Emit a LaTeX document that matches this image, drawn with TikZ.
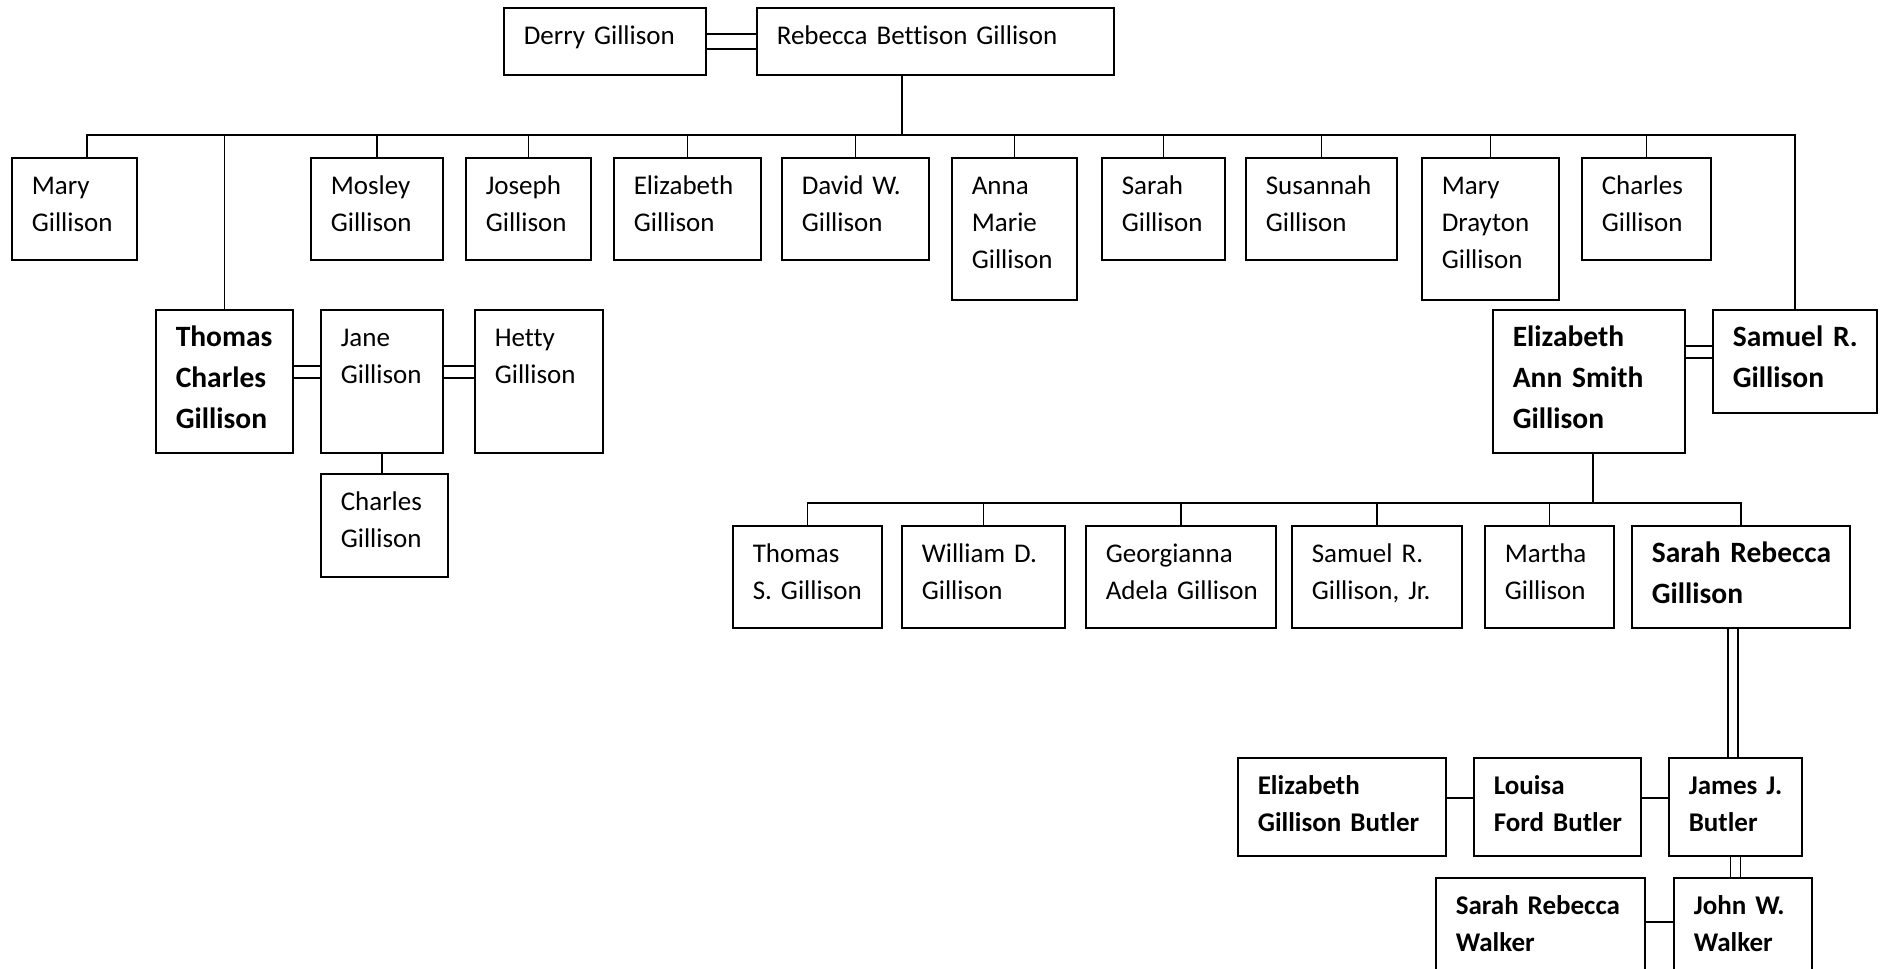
\documentclass[tikz,border=0pt]{standalone}
\usepackage{fontspec}
\setmainfont{Carlito}[Ligatures=NoCommon]

\pgfdeclarelayer{lines}
\pgfsetlayers{lines,main}

\hyphenpenalty=10000
\exhyphenpenalty=10000

\newcommand{\tnfont}{\fontsize{27}{37}\selectfont}
\newcommand{\tnbold}{\fontsize{27}{37}\selectfont\bfseries}
\newcommand{\tnbig}{\fontsize{29.5}{41}\selectfont\bfseries}

\tikzset{
  person/.style 2 args={draw, line width=1.6pt, anchor=north west, align=left,
    inner xsep=20pt, inner ysep=0pt, text width=#1pt-40pt,
    text height=37pt, text depth=#2pt-37pt, font=\tnfont},
  link/.style={line width=1.4pt},
  wed/.style={line width=1.4pt, double, double distance=10.6pt},
}

\begin{document}
\begin{tikzpicture}[x=1pt, y=-1pt]

    \useasboundingbox (0,0) rectangle (1885,969);

    % parents
    \node[person={202}{67}] (derry) at (503,7) {Derry~Gillison};
    \node[person={357}{67}] (rebecca) at (756,7) {Rebecca~Bettison~Gillison};

    % their children
    \node[person={125}{102}] (mary) at (11,157) {Mary\\Gillison};
    \node[person={137}{143}, font=\tnbig] (thomas) at (155,309) {Thomas\\Charles\\Gillison};
    \node[person={132}{102}] (mosley) at (310,157) {Mosley\\Gillison};
    \node[person={125}{102}] (joseph) at (465,157) {Joseph\\Gillison};
    \node[person={147}{102}] (eliz) at (613,157) {Elizabeth\\Gillison};
    \node[person={147}{102}] (david) at (781,157) {David~W.\\Gillison};
    \node[person={125}{142}] (anna) at (951,157) {Anna\\Marie\\Gillison};
    \node[person={123}{102}] (sarah) at (1101,157) {Sarah\\Gillison};
    \node[person={151}{102}] (susannah) at (1245,157) {Susannah\\Gillison};
    \node[person={137}{142}] (maryd) at (1421,157) {Mary\\Drayton\\Gillison};
    \node[person={129}{102}] (charles) at (1581,157) {Charles\\Gillison};
    \node[person={164}{103}, font=\tnbig] (samuel) at (1712,309) {Samuel~R.\\Gillison};

    % Thomas Charles
    \node[person={122}{143}] (jane) at (320,309) {Jane\\Gillison};
    \node[person={128}{143}] (hetty) at (474,309) {Hetty\\Gillison};
    \node[person={127}{103}] (charlesg) at (320,473) {Charles\\Gillison};

    % Samuel R.
    \node[person={192}{143}, font=\tnbig] (eann) at (1492,309) {Elizabeth\\Ann~Smith\\Gillison};
    \node[person={149}{102}] (thomass) at (732,525) {Thomas\\S.~Gillison};
    \node[person={163}{102}] (william) at (901,525) {William~D.\\Gillison};
    \node[person={190}{102}] (georg) at (1085,525) {Georgianna\\Adela~Gillison};
    \node[person={170}{102}] (samjr) at (1291,525) {Samuel~R.\\Gillison,~Jr.};
    \node[person={129}{102}] (martha) at (1484,525) {Martha\\Gillison};
    \node[person={218}{102}, font=\tnbig] (srg) at (1631,525) {Sarah~Rebecca\\Gillison};

    % Butler and Walker
    \node[person={208}{98}, font=\tnbold] (ebutler) at (1237,757) {Elizabeth\\Gillison~Butler};
    \node[person={167}{98}, font=\tnbold] (louisa) at (1473,757) {Louisa\\Ford~Butler};
    \node[person={133}{98}, font=\tnbold] (james) at (1668,757) {James~J.\\Butler};
    \node[person={209}{100}, font=\tnbold] (swalker) at (1435,877) {Sarah~Rebecca\\Walker};
    \node[person={138}{100}, font=\tnbold] (jwalker) at (1673,877) {John~W.\\Walker};

    \begin{pgfonlayer}{lines}
    \coordinate (bar1) at (902,135);
    \coordinate (bar2) at (1593,503);

    \draw[wed, double distance=13.6pt] (derry.east) -- (rebecca.west);
    \draw[link] (rebecca.south -| bar1) -- (bar1);
    \draw[link] ([xshift=12.5pt]mary.north) |- (samuel.north |- bar1) -- (samuel.north);
    \foreach \kid in {thomas,mosley,joseph,eliz,david,anna,sarah,susannah,maryd,charles}
      \draw[link] (\kid.north) -- (\kid.north |- bar1);

    \draw[wed] ([yshift=9.5pt]thomas.east) -- ([yshift=9.5pt]jane.west);
    \draw[wed] ([yshift=9.5pt]jane.east) -- ([yshift=9.5pt]hetty.west);
    \draw[link] (jane.south) -- (jane.south |- charlesg.north);

    \coordinate (wed2) at ([yshift=9.5pt]samuel.west);
    \draw[wed] (wed2 -| eann.east) -- (wed2);
    \draw[link] (eann.south -| bar2) -- (bar2);
    \draw[link] (thomass.north) |- (srg.north |- bar2) -- (srg.north);
    \foreach \kid in {william,georg,samjr,martha}
      \draw[link] (\kid.north) -- (\kid.north |- bar2);

    \coordinate (wed3) at ([xshift=-2.5pt]james.north);
    \draw[wed, double distance=8.6pt] (wed3 |- srg.south) -- (wed3);
    \draw[wed, double distance=8.6pt] (james.south) -- (james.south |- jwalker.north);
    \draw[link] ([yshift=9pt]ebutler.east) -- ([yshift=9pt]louisa.west);
    \draw[link] ([yshift=9pt]louisa.east) -- ([yshift=9pt]james.west);
    \draw[link] ([yshift=6pt]swalker.east) -- ([yshift=6pt]jwalker.west);
    \end{pgfonlayer}

\end{tikzpicture}
\end{document}
